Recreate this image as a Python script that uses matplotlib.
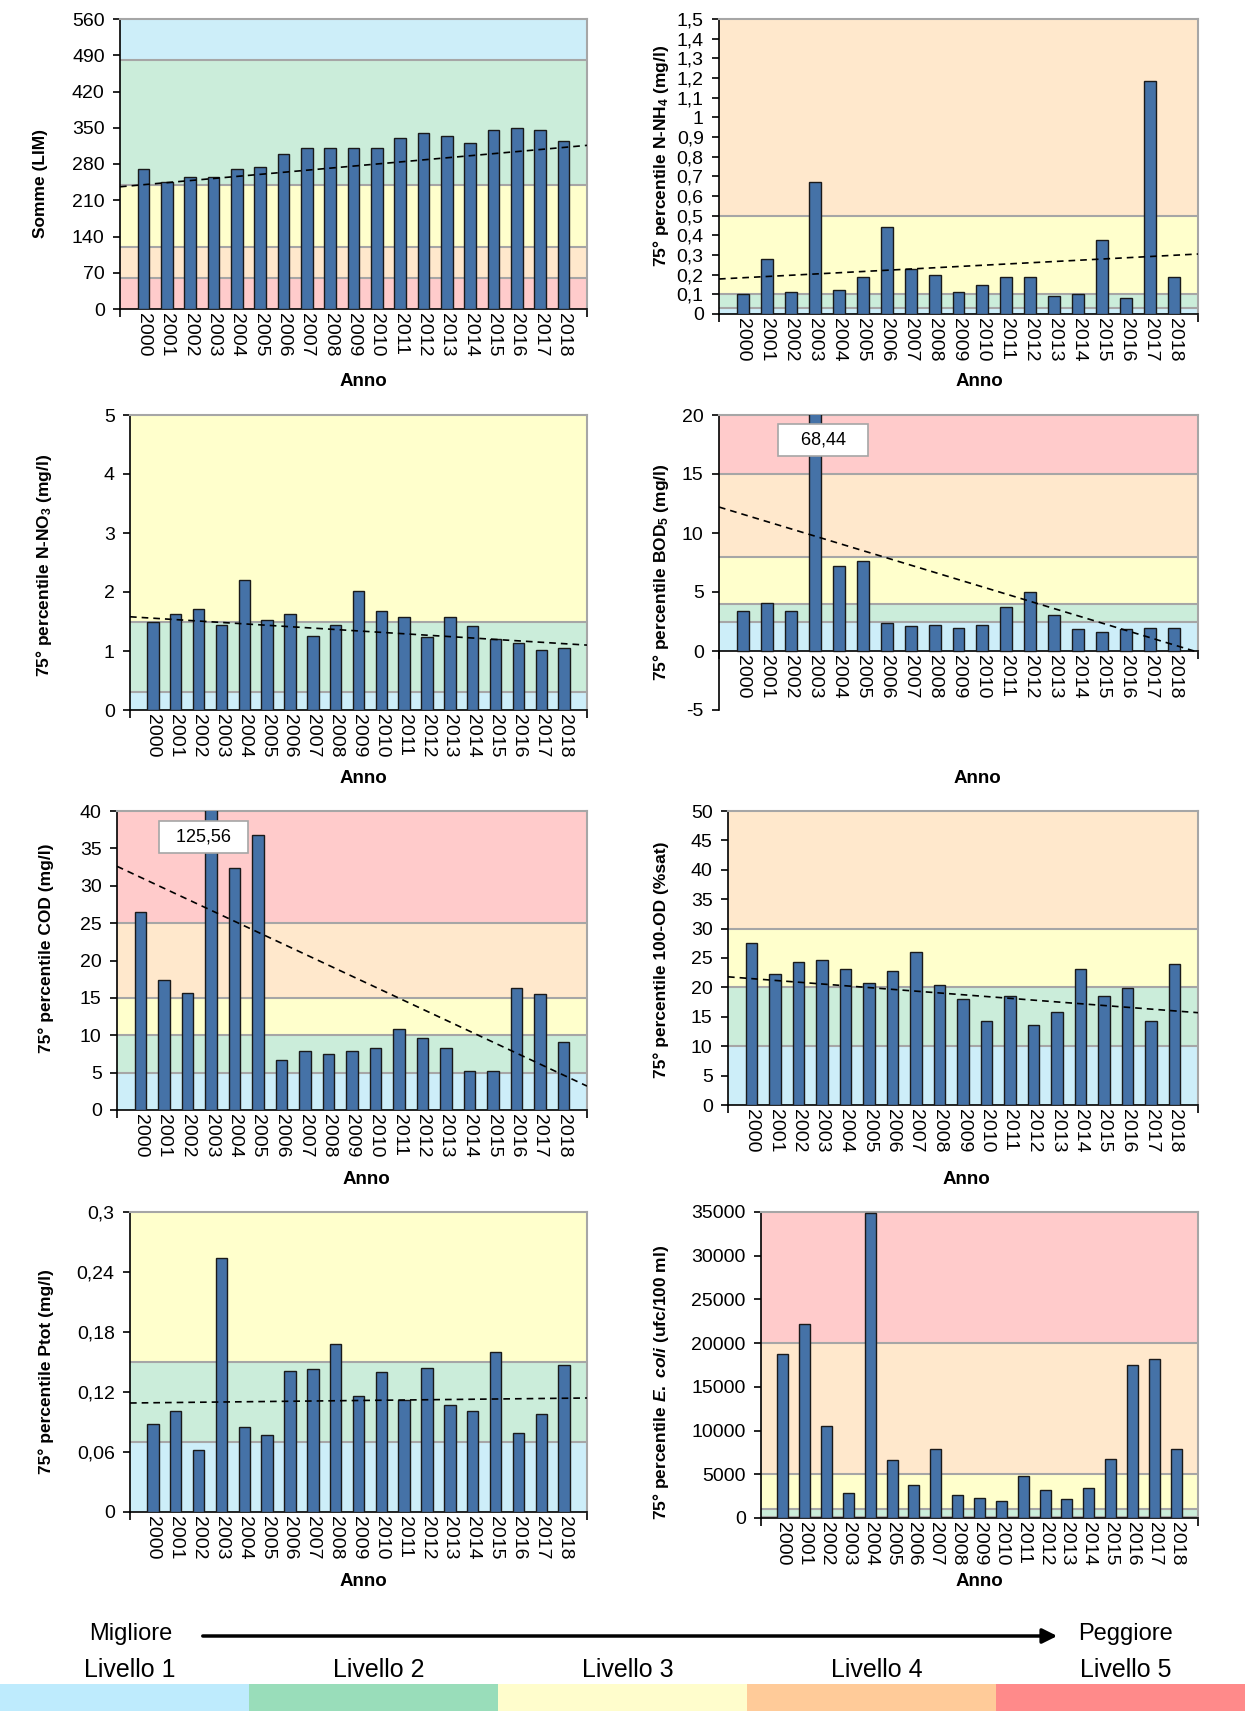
import numpy as np
import matplotlib.pyplot as plt
from matplotlib.patches import Rectangle, FancyArrowPatch

plt.rcParams['font.family'] = ['Liberation Sans', 'DejaVu Sans']
plt.rcParams['mathtext.fontset'] = 'custom'
plt.rcParams['mathtext.rm'] = 'Liberation Sans:bold'
plt.rcParams['mathtext.it'] = 'Liberation Sans:italic:bold'

# --- dati ---
years = [str(y) for y in range(2000, 2019)]

lim = [270, 245, 255, 255, 270, 275, 300, 310, 310, 310, 310, 330, 340, 335, 320, 345, 350, 345, 325]
nh4 = [0.10, 0.28, 0.11, 0.67, 0.12, 0.19, 0.44, 0.23, 0.20, 0.11, 0.15, 0.19, 0.19, 0.09, 0.10, 0.375, 0.08, 1.185, 0.19]
no3 = [1.50, 1.63, 1.71, 1.44, 2.21, 1.52, 1.63, 1.26, 1.44, 2.02, 1.68, 1.58, 1.24, 1.58, 1.42, 1.21, 1.13, 1.02, 1.05]
bod = [3.4, 4.06, 3.4, 68.44, 7.22, 7.64, 2.38, 2.13, 2.24, 1.99, 2.24, 3.69, 4.98, 3.02, 1.85, 1.59, 1.85, 1.99, 1.99]
cod = [26.5, 17.4, 15.7, 125.56, 32.4, 36.8, 6.7, 7.95, 7.5, 7.95, 8.35, 10.85, 9.6, 8.35, 5.2, 5.2, 16.3, 15.5, 9.15]
od = [27.6, 22.3, 24.4, 24.7, 23.1, 20.7, 22.8, 26.0, 20.45, 18.1, 14.35, 18.6, 13.55, 15.9, 23.1, 18.6, 19.95, 14.35, 23.9]
ptot = [0.088, 0.101, 0.062, 0.254, 0.0855, 0.0775, 0.1415, 0.143, 0.168, 0.116, 0.140, 0.112, 0.1445, 0.107, 0.101, 0.160, 0.079, 0.098, 0.1475]
ecoli = [18740, 22150, 10550, 2860, 34880, 6590, 3730, 7850, 2670, 2320, 1980, 4800, 3200, 2130, 3390, 6780, 17480, 18200, 7850]

# linee di tendenza (valore all'inizio e alla fine dell'asse)
lim_trend = [236, 316]
nh4_trend = [0.178, 0.305]
no3_trend = [1.58, 1.10]
bod_trend = [12.2, -0.1]
cod_trend = [32.6, 3.2]
od_trend = [21.8, 15.7]
ptot_trend = [0.109, 0.114]

# soglie dei livelli
lim_edges = [0, 60, 120, 240, 480, 560]
nh4_edges = [0, 0.03, 0.10, 0.50, 1.50]
no3_edges = [0, 0.3, 1.5, 5]
bod_edges = [0, 2.5, 4, 8, 15, 20]
cod_edges = [0, 5, 10, 15, 25, 40]
od_edges = [0, 10, 20, 30, 50]
ptot_edges = [0, 0.07, 0.15, 0.30]
ecoli_edges = [0, 100, 1000, 5000, 20000, 35000]

levels = ['Livello 1', 'Livello 2', 'Livello 3', 'Livello 4', 'Livello 5']

# colori
L1, L2, L3, L4, L5 = '#CDEEF9', '#CBEDDA', '#FFFFCC', '#FFE8CC', '#FFCBCB'
legend_cols = ['#BEEBFD', '#99DDBA', '#FFFDCC', '#FFCB99', '#FF8A8A']
BAR = '#4572A7'
GRID = '#A6A6A6'

W, H = 1245, 1711
fig = plt.figure(figsize=(W / 100, H / 100), dpi=100)


def fmt(v):
    return f"{v:g}".replace('.', ',')


def panel(box, vals, edges, cols, ticks, ylim, ylabel, ylab_xy, anno_xy, trend=None, note=None):
    l, t, r, b = box
    ax = fig.add_axes([l / W, 1 - b / H, (r - l) / W, (b - t) / H])
    if ylim[0] < 0:
        # asse x sullo zero, come nel foglio originale
        ax.spines['bottom'].set_position(('data', 0))
        ax.spines['right'].set_bounds(0, ylim[1])
    x = np.arange(len(vals))
    for lo, hi, c in zip(edges[:-1], edges[1:], cols):
        ax.axhspan(lo, hi, color=c, lw=0, zorder=0)
    for e in edges[1:-1]:
        ax.axhline(e, color=GRID, lw=1.5, zorder=1)
    ax.bar(x, vals, width=0.5, color=BAR, edgecolor='#1A1A1A', lw=1, zorder=3)
    if trend is not None:
        ax.plot([-1, 19], trend, color='black', lw=1.2, ls=(0, (4, 3)), zorder=4)
    if note is not None:
        nx, ny, txt, nsp = note
        ax.text(nx, ny, ' ' * nsp + txt + ' ' * nsp, ha='center', va='center', fontsize=13, zorder=6,
                bbox=dict(boxstyle='square,pad=0.4', fc='white', ec=GRID, lw=1.2))
    ax.set_xlim(-1, 19)
    ax.set_ylim(*ylim)
    ax.set_yticks(ticks, [fmt(v) for v in ticks])
    ax.set_xticks(x, years, rotation=270)
    ax.set_xticks([-1, 19], minor=True)
    ax.tick_params(axis='x', which='major', length=0, pad=3, labelsize=14)
    ax.tick_params(axis='x', which='minor', length=6, width=1.2, direction='out')
    ax.tick_params(axis='y', length=5, width=1.2, direction='out', labelsize=14, pad=6)
    for s in ['top', 'right']:
        ax.spines[s].set_color(GRID)
        ax.spines[s].set_linewidth(1.5)
    for s in ['left', 'bottom']:
        ax.spines[s].set_color('black')
        ax.spines[s].set_linewidth(1.2)
    fig.text(ylab_xy[0] / W, 1 - ylab_xy[1] / H, ylabel, rotation=90, ha='center', va='center',
             fontsize=12.5, fontweight='bold')
    fig.text(anno_xy[0] / W, 1 - anno_xy[1] / H, 'Anno', ha='center', va='center',
             fontsize=13.5, fontweight='bold')
    return ax


panel((120, 19, 587, 309), lim, lim_edges, [L5, L4, L3, L2, L1], np.arange(0, 561, 70), (0, 560),
      'Somme (LIM)', (41, 184), (363, 382), trend=lim_trend)
panel((719, 19, 1198, 314), nh4, nh4_edges, [L1, L2, L3, L4], np.round(np.arange(0, 1.51, 0.1), 1), (0, 1.5),
      r'75° percentile N-NH$_4$ (mg/l)', (661, 156), (979, 382), trend=nh4_trend)
panel((130, 415, 587, 710), no3, no3_edges, [L1, L2, L3], np.arange(0, 6, 1), (0, 5),
      r'75° percentile N-NO$_3$ (mg/l)', (44, 565), (363, 779), trend=no3_trend)
panel((719, 415, 1198, 710), bod, bod_edges, [L1, L2, L3, L4, L5], np.arange(-5, 21, 5), (-5, 20),
      r'75° percentile BOD$_5$ (mg/l)', (661, 572), (977, 779), trend=bod_trend,
      note=(3.35, 17.9, '68,44', 3))
panel((117, 811, 587, 1110), cod, cod_edges, [L1, L2, L3, L4, L5], np.arange(0, 41, 5), (0, 40),
      '75° percentile COD (mg/l)', (46, 948), (366, 1180), trend=cod_trend,
      note=(2.68, 36.5, '125,56', 2))
panel((728, 811, 1198, 1105), od, od_edges, [L1, L2, L3, L4], np.arange(0, 51, 5), (0, 50),
      '75° percentile 100-OD (%sat)', (661, 960), (966, 1180), trend=od_trend)
panel((130, 1212, 587, 1512), ptot, ptot_edges, [L1, L2, L3], np.round(np.arange(0, 0.31, 0.06), 2), (0, 0.3),
      '75° percentile Ptot (mg/l)', (46, 1372), (363, 1581), trend=ptot_trend)
panel((761, 1212, 1198, 1518), ecoli, ecoli_edges, [L1, L2, L3, L4, L5], np.arange(0, 35001, 5000), (0, 35000),
      r'75° percentile $E.\ coli$ (ufc/100 ml)', (661, 1382), (979, 1582))

# --- legenda dei livelli ---
fig.text(131 / W, 1 - 1634 / H, 'Migliore', ha='center', va='center', fontsize=17)
fig.text(1126 / W, 1 - 1634 / H, 'Peggiore', ha='center', va='center', fontsize=17)
fig.add_artist(FancyArrowPatch((200 / W, 1 - 1636 / H), (1060 / W, 1 - 1636 / H), transform=fig.transFigure,
                               arrowstyle='-|>', mutation_scale=22, lw=2.5, color='black'))
for i, (name, c) in enumerate(zip(levels, legend_cols)):
    fig.add_artist(Rectangle((i / 5, 0), 1 / 5, 27 / H, transform=fig.transFigure, color=c, lw=0))
    fig.text((i + 0.5) / 5 + 5 / W, 1 - 1670 / H, name, ha='center', va='center', fontsize=18)

fig.savefig('out.png', dpi=100)
